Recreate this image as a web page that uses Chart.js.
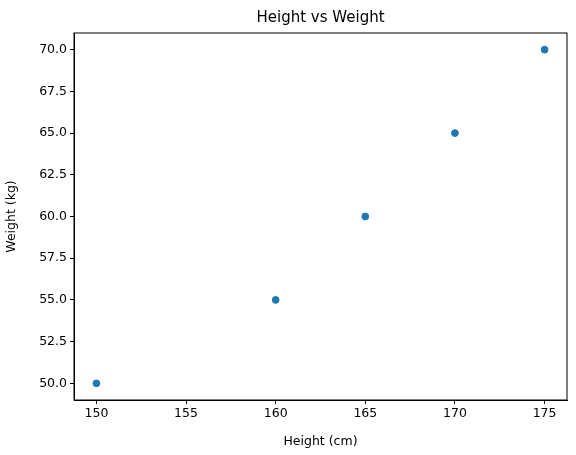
<!DOCTYPE html>
<html><head><script src="https://cdn.jsdelivr.net/npm/chart.js@4"></script>
<style>body{margin:0;background:#fff}#w{width:576px;height:455px}</style></head>
<body><div id="w"><canvas id="c"></canvas></div>
<script>
const heights=[150,160,165,170,175];
const weights=[50,55,60,65,70];
const xTicks=[150,155,160,165,170,175];
const yTicks=[50,52.5,55,57.5,60,62.5,65,67.5,70];
const F='DejaVu Sans';
const frame={id:'frame',afterDraw(ch){const a=ch.chartArea,c=ch.ctx;c.save();c.strokeStyle='#000';c.lineWidth=1;c.strokeRect(a.left,a.top,a.right-a.left,a.bottom-a.top);
c.fillStyle='#000';c.font='15px "'+F+'"';c.textAlign='center';c.textBaseline='middle';c.fillText('Height vs Weight',(a.left+a.right)/2,18);c.restore();}};
new Chart(document.getElementById('c'),{type:'scatter',
data:{datasets:[{data:heights.map((h,i)=>({x:h,y:weights[i]})),backgroundColor:'#1f77b4',borderColor:'#1f77b4',pointRadius:3.4}]},
options:{responsive:true,maintainAspectRatio:false,animation:false,
layout:{padding:{top:33,right:9,left:0,bottom:0}},
plugins:{legend:{display:false},tooltip:{enabled:false}},
scales:{
x:{min:148.75,max:176.25,afterBuildTicks:s=>{s.ticks=xTicks.map(v=>({value:v}))},afterFit:s=>{s.height=55},
grid:{drawOnChartArea:false,tickLength:4,color:'#000'},border:{color:'#000'},
ticks:{color:'#000',font:{family:F,size:12.5},padding:2,callback:v=>v},
title:{display:true,text:'Height (cm)',color:'#000',font:{family:F,size:12.5},padding:{top:6,bottom:6}}},
y:{min:49,max:71,afterBuildTicks:s=>{s.ticks=yTicks.map(v=>({value:v}))},afterFit:s=>{s.width=74},
grid:{drawOnChartArea:false,tickLength:4,color:'#000'},border:{color:'#000'},
ticks:{color:'#000',font:{family:F,size:12.5},padding:3,callback:v=>v.toFixed(1)},
title:{display:true,text:'Weight (kg)',color:'#000',font:{family:F,size:12.5},padding:{top:4,bottom:4}}}}},
plugins:[frame]});
</script></body></html>
